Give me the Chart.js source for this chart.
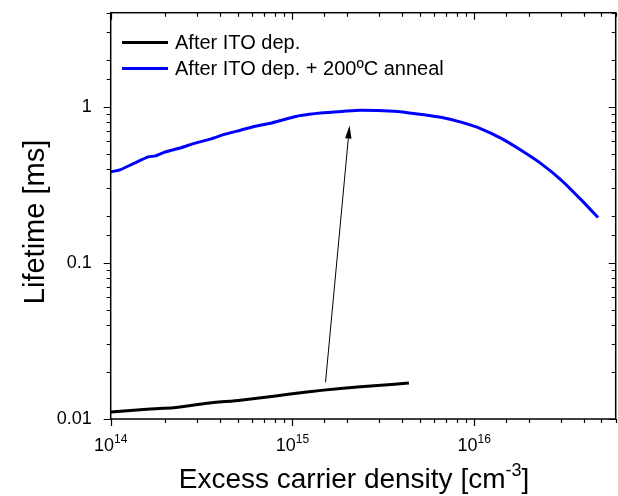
<!DOCTYPE html>
<html>
<head>
<meta charset="utf-8">
<script src="https://cdn.jsdelivr.net/npm/chart.js@4/dist/chart.umd.min.js"></script>
<style>
  html, body { margin: 0; background: #fff; }
</style>
</head>
<body>
<canvas id="chart" width="618" height="496"></canvas>
<script>
"use strict";

const FONT = "'Liberation Sans', Arial, sans-serif";

// axis ranges and labels
const X_MIN = 1e14, X_MAX = 6e16;
const Y_MIN = 0.01, Y_MAX = 4;
const X_TICK_EXPONENTS = [14, 15, 16];
const Y_TICK_LABELS = [0.01, 0.1, 1];

// after ITO deposition (black)
const depDensity  = [1e14, 1.65e14, 2.21e14, 3.39e14, 5.17e14, 7.88e14, 1.2e15, 1.84e15, 2.81e15, 4.37e15];
const depLifetime = [0.0111, 0.0116, 0.0118, 0.0126, 0.0132, 0.0140, 0.0149, 0.0157, 0.0163, 0.0170];

// after ITO deposition + 200ºC anneal (blue)
const annealDensity  = [1e14, 1.125e14, 1.36e14, 1.61e14, 1.76e14, 1.99e14, 2.41e14, 2.92e14, 3.53e14, 4.27e14,
                        5.17e14, 6.25e14, 7.56e14, 9.15e14, 1.107e15, 1.43e15, 1.92e15, 2.37e15, 3.62e15, 4.88e15,
                        6.55e15, 8.45e15, 1.09e16, 1.4e16, 1.81e16, 2.33e16, 3.01e16, 3.88e16, 4.8e16];
const annealLifetime = [0.383, 0.394, 0.437, 0.477, 0.484, 0.513, 0.544, 0.585, 0.620, 0.667,
                        0.707, 0.750, 0.784, 0.832, 0.878, 0.912, 0.935, 0.949, 0.935, 0.899,
                        0.856, 0.796, 0.722, 0.629, 0.526, 0.432, 0.339, 0.253, 0.195];

// annotation arrow, data coordinates [density, lifetime]
const arrowFrom = [1.52e15, 0.0172];
const arrowTo   = [2.06e15, 0.758];

const pts = (xs, ys) => xs.map((x, i) => ({ x, y: ys[i] }));
const isDecade = (v) => Math.abs(Math.log10(v) - Math.round(Math.log10(v))) < 1e-6;

// frame, tick marks, x labels with exponents, titles, legend, arrow
const decorations = {
  id: "decorations",
  afterDraw(chart) {
    const { ctx, chartArea: a, scales: { x, y } } = chart;
    ctx.save();
    ctx.strokeStyle = "#000";
    ctx.fillStyle = "#000";

    ctx.lineWidth = 1.5;
    ctx.strokeRect(a.left, a.top, a.right - a.left, a.bottom - a.top);

    ctx.lineWidth = 1.2;
    ctx.beginPath();
    for (const t of x.ticks) {
      const px = Math.round(x.getPixelForValue(t.value)) + 0.5;
      const len = isDecade(t.value) ? 7 : 4;
      ctx.moveTo(px, a.bottom); ctx.lineTo(px, a.bottom + len);
      ctx.moveTo(px, a.top); ctx.lineTo(px, a.top + len);
    }
    for (const t of y.ticks) {
      const py = Math.round(y.getPixelForValue(t.value)) + 0.5;
      const len = isDecade(t.value) ? 7 : 4;
      ctx.moveTo(a.left, py); ctx.lineTo(a.left - len, py);
      ctx.moveTo(a.right, py); ctx.lineTo(a.right - len, py);
    }
    ctx.stroke();

    // x tick labels: 10 with superscript exponent
    ctx.textBaseline = "alphabetic";
    ctx.textAlign = "left";
    for (const e of X_TICK_EXPONENTS) {
      const px = x.getPixelForValue(Math.pow(10, e));
      ctx.font = `18px ${FONT}`;
      const wBase = ctx.measureText("10").width;
      ctx.font = `12px ${FONT}`;
      const wExp = ctx.measureText(String(e)).width;
      const start = px - (wBase + wExp) / 2;
      ctx.font = `18px ${FONT}`;
      ctx.fillText("10", start, 451);
      ctx.font = `12px ${FONT}`;
      ctx.fillText(String(e), start + wBase, 443);
    }

    // x title
    const t1 = "Excess carrier density [cm", t2 = "-3", t3 = "]";
    ctx.font = `28px ${FONT}`;
    const w1 = ctx.measureText(t1).width, w3 = ctx.measureText(t3).width;
    ctx.font = `18px ${FONT}`;
    const w2 = ctx.measureText(t2).width;
    let sx = 354 - (w1 + w2 + w3) / 2;
    ctx.font = `28px ${FONT}`;
    ctx.fillText(t1, sx, 488);
    ctx.font = `18px ${FONT}`;
    ctx.fillText(t2, sx + w1, 476);
    ctx.font = `28px ${FONT}`;
    ctx.fillText(t3, sx + w1 + w2, 488);

    // y title
    ctx.save();
    ctx.translate(44, 222);
    ctx.rotate(-Math.PI / 2);
    ctx.textAlign = "center";
    ctx.font = `29px ${FONT}`;
    ctx.fillText("Lifetime [ms]", 0, 0);
    ctx.restore();

    // legend
    ctx.textBaseline = "middle";
    ctx.font = `20px ${FONT}`;
    chart.data.datasets.forEach((ds, i) => {
      const ly = 42.5 + i * 26;
      ctx.strokeStyle = ds.borderColor;
      ctx.lineWidth = 3;
      ctx.beginPath();
      ctx.moveTo(122, ly); ctx.lineTo(168, ly);
      ctx.stroke();
      ctx.fillStyle = "#000";
      ctx.fillText(ds.label, 175, ly + 1);
    });

    // arrow
    const x0 = x.getPixelForValue(arrowFrom[0]), y0 = y.getPixelForValue(arrowFrom[1]);
    const x1 = x.getPixelForValue(arrowTo[0]), y1 = y.getPixelForValue(arrowTo[1]);
    const ang = Math.atan2(y1 - y0, x1 - x0);
    const hl = 13, hw = 3.2;
    const bx = x1 - hl * Math.cos(ang), by = y1 - hl * Math.sin(ang);
    ctx.strokeStyle = "#000";
    ctx.lineWidth = 1;
    ctx.beginPath();
    ctx.moveTo(x0, y0); ctx.lineTo(bx, by);
    ctx.stroke();
    ctx.beginPath();
    ctx.moveTo(x1, y1);
    ctx.lineTo(bx + hw * Math.sin(ang), by - hw * Math.cos(ang));
    ctx.lineTo(bx - hw * Math.sin(ang), by + hw * Math.cos(ang));
    ctx.closePath();
    ctx.fill();

    ctx.restore();
  },
};

new Chart(document.getElementById("chart"), {
  type: "line",
  data: {
    datasets: [
      {
        label: "After ITO dep.",
        data: pts(depDensity, depLifetime),
        borderColor: "#000000",
        borderWidth: 3,
        pointRadius: 0,
        tension: 0.2,
      },
      {
        label: "After ITO dep. + 200ºC anneal",
        data: pts(annealDensity, annealLifetime),
        borderColor: "#0000ff",
        borderWidth: 3,
        pointRadius: 0,
        tension: 0.2,
      },
    ],
  },
  options: {
    responsive: false,
    animation: false,
    devicePixelRatio: 1,
    layout: { padding: { left: 0, right: 2.3, top: 12.7, bottom: 0 } },
    plugins: { legend: { display: false }, tooltip: { enabled: false } },
    scales: {
      x: {
        type: "logarithmic",
        min: X_MIN,
        max: X_MAX,
        grid: { display: false },
        border: { display: false },
        ticks: { display: false },
        afterFit: (s) => { s.height = 77; s.paddingLeft = 0; s.paddingRight = 0; },
      },
      y: {
        type: "logarithmic",
        min: Y_MIN,
        max: Y_MAX,
        grid: { display: false },
        border: { display: false },
        ticks: {
          autoSkip: false,
          color: "#000",
          padding: 11,
          font: { family: FONT, size: 18 },
          callback: (v) => {
            const hit = Y_TICK_LABELS.find((l) => Math.abs(Math.log10(v / l)) < 1e-6);
            return hit === undefined ? "" : String(hit);
          },
        },
        afterFit: (s) => { s.width = 110.7; s.paddingTop = 0; s.paddingBottom = 0; },
      },
    },
  },
  plugins: [decorations],
});
</script>
</body>
</html>
